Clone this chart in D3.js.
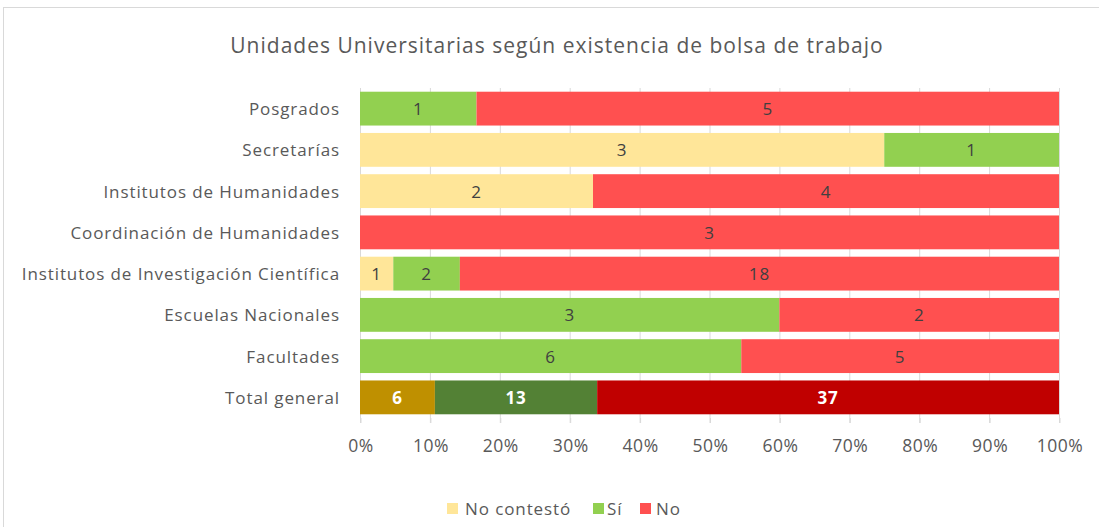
<!DOCTYPE html>
<html><head><meta charset="utf-8">
<script src="https://cdn.jsdelivr.net/npm/d3@7"></script>
<style>body{margin:0;background:#fff;} svg{display:block;}</style>
</head><body>
<svg id="c" width="1099" height="527"></svg>
<script>
const categories = ["Posgrados","Secretarías","Institutos de Humanidades","Coordinación de Humanidades","Institutos de Investigación Científica","Escuelas Nacionales","Facultades","Total general"];
const noContesto = [0,3,2,0,1,0,0,6];
const si = [1,1,0,0,2,3,6,13];
const no = [5,0,4,3,18,2,5,37];
const seriesNames = ["No contestó","Sí","No"];
const tickValues = [0,0.1,0.2,0.3,0.4,0.5,0.6,0.7,0.8,0.9,1.0];

const colors = ["#FFE699","#92D050","#FF5050"];
const totalColors = ["#BF9000","#538135","#C00000"];
const FONT = "'Open Sans', sans-serif";
const LS = "0.9px";

const svg = d3.select("#c");
svg.append("rect").attr("x",3.5).attr("y",7.5).attr("width",1200).attr("height",600).attr("fill","#fff").attr("stroke","#d9d9d9").attr("stroke-width",1);

const L=360, R=1059, T=88, B=418;
const x = d3.scaleLinear().domain([0,1]).range([L,R]);
const y = d3.scaleBand().domain(categories).range([T,B]).paddingInner(0.18).paddingOuter(0.09);

// gridlines
svg.append("g").selectAll("line").data(tickValues).join("line")
  .attr("x1",d=>x(d)+0.5).attr("x2",d=>x(d)+0.5).attr("y1",T).attr("y2",B+5)
  .attr("stroke","#d9d9d9").attr("stroke-width",1);

const rows = categories.map((c,i)=>{
  const vals=[noContesto[i],si[i],no[i]];
  const tot=d3.sum(vals);
  let cum=0;
  return vals.map((v,j)=>{const s={cat:c,j,v,x0:cum/tot,x1:(cum+v)/tot,total:c==="Total general"};cum+=v;return s;});
}).flat().filter(d=>d.v>0);

svg.append("g").selectAll("rect").data(rows).join("rect")
  .attr("x",d=>x(d.x0)).attr("width",d=>x(d.x1)-x(d.x0))
  .attr("y",d=>y(d.cat)).attr("height",y.bandwidth())
  .attr("fill",d=>d.total?totalColors[d.j]:colors[d.j]);

svg.append("g").selectAll("text").data(rows).join("text")
  .attr("x",d=>(x(d.x0)+x(d.x1))/2).attr("y",d=>y(d.cat)+y.bandwidth()/2)
  .attr("dy","0.38em").attr("text-anchor","middle")
  .attr("font-family",FONT).attr("font-size",17).attr("letter-spacing",LS)
  .attr("font-weight",d=>d.total?"bold":"normal")
  .attr("fill",d=>d.total?"#ffffff":"#404040")
  .text(d=>d.v);

// category labels
svg.append("g").selectAll("text").data(categories).join("text")
  .attr("x",L-20).attr("y",d=>y(d)+y.bandwidth()/2).attr("dy","0.38em")
  .attr("text-anchor","end").attr("font-family",FONT).attr("font-size",17).attr("letter-spacing",LS).attr("fill","#595959")
  .text(d=>d);

// x axis
const xAxis = d3.axisBottom(x).tickValues(tickValues).tickFormat(d3.format(".0%")).tickSize(5).tickSizeOuter(0);
const gx = svg.append("g").attr("transform",`translate(0.5,${B})`).call(xAxis);
gx.select(".domain").remove();
gx.selectAll(".tick line").attr("stroke","#d9d9d9");
gx.selectAll(".tick text").attr("font-family",FONT).attr("font-size",17.5).attr("letter-spacing","0.5px").attr("fill","#595959").attr("y",34).attr("dy",0);

// title
svg.append("text").attr("x",557).attr("y",53).attr("text-anchor","middle")
  .attr("font-family",FONT).attr("font-size",21).attr("letter-spacing","1px").attr("fill","#595959")
  .text("Unidades Universitarias según existencia de bolsa de trabajo");

// legend
const legX=[447,593,640];
const lg = svg.append("g").selectAll("g").data(seriesNames).join("g")
  .attr("transform",(d,i)=>`translate(${legX[i]},503)`);
lg.append("rect").attr("width",11).attr("height",11).attr("fill",(d,i)=>colors[i]);
lg.append("text").attr("x",d=>d==="Sí"?14:(d==="No"?16:18)).attr("y",6).attr("dy","0.38em").attr("font-family",FONT).attr("font-size",17).attr("letter-spacing",LS).attr("fill","#595959").text(d=>d);
</script>
</body></html>
